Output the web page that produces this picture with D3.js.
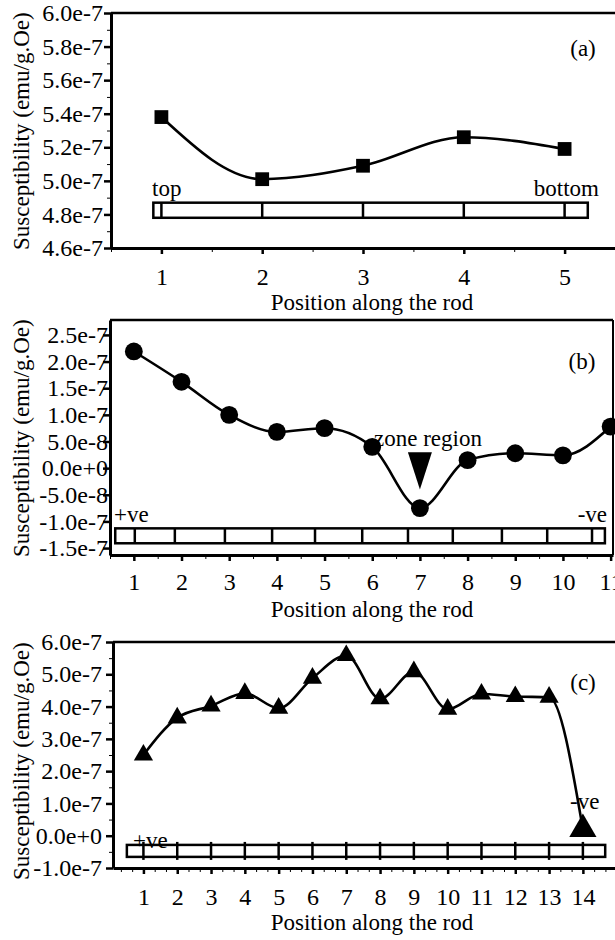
<!DOCTYPE html>
<html>
<head>
<meta charset="utf-8">
<script src="https://cdn.jsdelivr.net/npm/d3@7"></script>
<style>
  body { margin: 0; background: #fff; }
  text { font-family: "Liberation Serif", "Times New Roman", serif; fill: #000; }
</style>
</head>
<body>
<div id="chart"></div>
<script>
// panel (a) - square markers
const posA = [1, 2, 3, 4, 5];
const suscA = [5.38e-7, 5.01e-7, 5.09e-7, 5.26e-7, 5.19e-7];
const yTicksA = [4.6e-7, 4.8e-7, 5.0e-7, 5.2e-7, 5.4e-7, 5.6e-7, 5.8e-7, 6.0e-7];
const xTicksA = [1, 2, 3, 4, 5];

// panel (b) - circle markers
const posB = [1, 2, 3, 4, 5, 6, 7, 8, 9, 10, 11];
const suscB = [2.19e-7, 1.62e-7, 1.0e-7, 0.68e-7, 0.75e-7, 0.40e-7, -0.75e-7, 0.15e-7, 0.28e-7, 0.24e-7, 0.78e-7];
const yTicksB = [-1.5e-7, -1.0e-7, -5.0e-8, 0, 5.0e-8, 1.0e-7, 1.5e-7, 2.0e-7, 2.5e-7];
const xTicksB = [1, 2, 3, 4, 5, 6, 7, 8, 9, 10, 11];

// panel (c) - triangle markers
const posC = [1, 2, 3, 4, 5, 6, 7, 8, 9, 10, 11, 12, 13, 14];
const suscC = [2.5e-7, 3.65e-7, 4.02e-7, 4.41e-7, 3.95e-7, 4.88e-7, 5.58e-7, 4.24e-7, 5.08e-7, 3.92e-7, 4.39e-7, 4.31e-7, 4.29e-7, 0.2e-7];
const yTicksC = [-1.0e-7, 0, 1.0e-7, 2.0e-7, 3.0e-7, 4.0e-7, 5.0e-7, 6.0e-7];
const xTicksC = [1, 2, 3, 4, 5, 6, 7, 8, 9, 10, 11, 12, 13, 14];

const fmt = v => d3.format(".1e")(v).replace("\u2212", "-");
const FS = 23;   // label size
const TS = 24;   // tick label size

let svg = d3.select("#chart")
    .append("svg")
    .attr("width", 615)
    .attr("height", 940);

function drawPanel(p) {
    let x = d3.scaleLinear().domain(p.xDomain).range([p.left, p.right]);
    let y = d3.scaleLinear().domain(p.yDomain).range([p.bottom, p.top]);
    let g = svg.append("g");

    // minor ticks
    g.append("g")
        .attr("transform", "translate(0," + p.bottom + ")")
        .call(d3.axisBottom(x).tickValues(p.xMinor).tickSize(4).tickSizeOuter(0).tickFormat(""))
        .call(a => a.select(".domain").remove());
    g.append("g")
        .attr("transform", "translate(" + p.left + ",0)")
        .call(d3.axisLeft(y).tickValues(p.yMinor).tickSize(4).tickSizeOuter(0).tickFormat(""))
        .call(a => a.select(".domain").remove());

    // main axes
    let xa = g.append("g")
        .attr("transform", "translate(0," + p.bottom + ")")
        .call(d3.axisBottom(x).tickValues(p.xTicks).tickSize(6).tickSizeOuter(0)
            .tickPadding(p.xPad).tickFormat(d3.format("d")));
    let ya = g.append("g")
        .attr("transform", "translate(" + p.left + ",0)")
        .call(d3.axisLeft(y).tickValues(p.yTicks).tickSize(7).tickSizeOuter(0).tickPadding(p.yPad).tickFormat(fmt));
    [xa, ya].forEach(a => {
        a.attr("font-family", null);
        a.selectAll("text").style("font-size", TS + "px");
        a.selectAll("line").attr("stroke-width", 2.5);
        a.select(".domain").attr("stroke-width", 3);
    });

    // frame top (and right for b)
    g.append("line")
        .attr("x1", p.left).attr("x2", p.right)
        .attr("y1", p.top).attr("y2", p.top)
        .attr("stroke", "#000").attr("stroke-width", 2.5);
    if (p.rightBorder) {
        g.append("line")
            .attr("x1", p.right).attr("x2", p.right)
            .attr("y1", p.top).attr("y2", p.bottom)
            .attr("stroke", "#000").attr("stroke-width", 2);
    }

    // the rod
    let r = p.rod;
    g.append("rect")
        .attr("x", x(r.x0)).attr("y", y(r.y1))
        .attr("width", x(r.x1) - x(r.x0)).attr("height", y(r.y0) - y(r.y1))
        .attr("fill", "#fff").attr("stroke", "#000").attr("stroke-width", 2.5);
    g.selectAll(".div")
        .data(r.dividers)
        .join("line")
        .attr("x1", d => x(d)).attr("x2", d => x(d))
        .attr("y1", y(r.y1) - r.ext).attr("y2", y(r.y0) + r.ext)
        .attr("stroke", "#000").attr("stroke-width", 2.5);

    // axis titles
    g.append("text")
        .attr("transform", "translate(29," + p.yTitleY + ") rotate(-90)")
        .attr("text-anchor", "start")
        .style("font-size", FS + "px")
        .text("Susceptibility (emu/g.Oe)");
    g.append("text")
        .attr("x", 372).attr("y", p.xTitleY)
        .attr("text-anchor", "middle")
        .style("font-size", FS + "px")
        .text("Position along the rod");

    // annotations
    p.notes.forEach(n => {
        g.append("text")
            .attr("x", n.x).attr("y", n.y)
            .attr("text-anchor", n.anchor || "start")
            .style("font-size", FS + "px")
            .text(n.t);
    });

    // line
    let pts = p.pos.map((d, i) => [d, p.vals[i]]);
    g.append("path")
        .datum(pts)
        .attr("fill", "none")
        .attr("stroke", "#000")
        .attr("stroke-width", 2.6)
        .attr("d", d3.line().x(d => x(d[0])).y(d => y(d[1])).curve(d3.curveMonotoneX));

    // markers
    g.selectAll(".pt")
        .data(pts)
        .join("path")
        .attr("transform", d => "translate(" + x(d[0]) + "," + y(d[1]) + ")")
        .attr("d", (d, i) => d3.symbol().type(p.symbol).size(p.sizeOf(i))())
        .attr("fill", "#000");

    return {x: x, y: y, g: g};
}

drawPanel({
    left: 111, right: 615, top: 13, bottom: 248,
    xDomain: [0.5, 5.5], yDomain: [4.6e-7, 6.0e-7],
    xTicks: xTicksA, yTicks: yTicksA,
    xMinor: d3.range(0.5, 5.6, 0.5), yMinor: d3.range(4.7e-7, 6.0e-7, 2e-8),
    xPad: 14, yPad: 1,
    pos: posA, vals: suscA,
    symbol: d3.symbolSquare, sizeOf: () => 190,
    rod: {x0: 0.92, x1: 5.23, y0: 4.78e-7, y1: 4.87e-7, dividers: xTicksA, ext: 0},
    yTitleY: 250, xTitleY: 310,
    notes: [
        {t: "(a)", x: 583, y: 56, anchor: "middle"},
        {t: "top", x: 152, y: 196},
        {t: "bottom", x: 599, y: 196, anchor: "end"}
    ]
});

let pb = drawPanel({
    left: 110, right: 613, top: 320, bottom: 555, rightBorder: true,
    xDomain: [0.5, 11.05], yDomain: [-1.63e-7, 2.78e-7],
    xTicks: xTicksB, yTicks: yTicksB,
    xMinor: d3.range(0.5, 11.05, 0.5), yMinor: [],
    xPad: 12, yPad: -5,
    pos: posB, vals: suscB,
    symbol: d3.symbolCircle, sizeOf: () => 250,
    rod: {x0: 0.61, x1: 10.88, y0: -1.41e-7, y1: -1.13e-7,
          dividers: [1.02, 1.86, 2.91, 3.9, 4.8, 5.79, 6.75, 7.69, 8.72, 9.67, 10.61], ext: 0},
    yTitleY: 557, xTitleY: 617,
    notes: [
        {t: "(b)", x: 582, y: 369, anchor: "middle"},
        {t: "zone region", x: 374, y: 446},
        {t: "+ve", x: 114, y: 522},
        {t: "-ve", x: 607, y: 522, anchor: "end"}
    ]
});

// arrow pointing at the zone region
pb.g.append("path")
    .attr("d", d3.line()([
        [pb.x(7) - 12, pb.y(0.30e-7)],
        [pb.x(7) + 12, pb.y(0.30e-7)],
        [pb.x(7), pb.y(-0.40e-7)]
    ]) + "Z")
    .attr("fill", "#000");

drawPanel({
    left: 113, right: 615, top: 642, bottom: 868,
    xDomain: [0.1, 14.95], yDomain: [-1.0e-7, 6.0e-7],
    xTicks: xTicksC, yTicks: yTicksC,
    xMinor: d3.range(1, 45).map(k => k / 3), yMinor: d3.range(-0.5e-7, 6.0e-7, 1e-7),
    xPad: 14, yPad: 4,
    pos: posC, vals: suscC,
    symbol: d3.symbolTriangle, sizeOf: i => i === posC.length - 1 ? 320 : 160,
    rod: {x0: 0.51, x1: 14.66, y0: -0.656e-7, y1: -0.285e-7, dividers: xTicksC, ext: 3},
    yTitleY: 880, xTitleY: 930,
    notes: [
        {t: "(c)", x: 583, y: 690, anchor: "middle"},
        {t: "+ve", x: 133, y: 848},
        {t: "-ve", x: 570, y: 809}
    ]
});
</script>
</body>
</html>
